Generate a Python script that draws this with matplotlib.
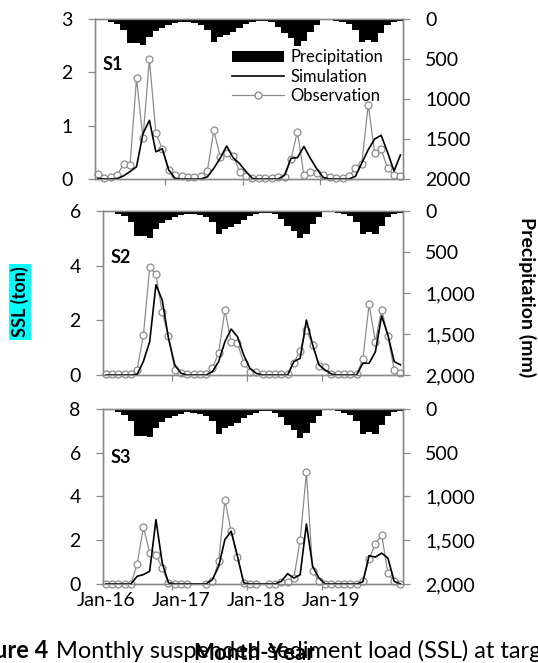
import numpy as np
import matplotlib
matplotlib.use('Agg')
import matplotlib.pyplot as plt
from matplotlib.patches import Patch
from matplotlib.lines import Line2D
from matplotlib.ticker import FuncFormatter

plt.rcParams['font.family'] = ['Lato', 'DejaVu Sans']

nan = np.nan
months = np.arange(48)  # Jan-16 .. Dec-19
tick_pos = [0, 12, 24, 36]
tick_labels = ['Jan-16', 'Jan-17', 'Jan-18', 'Jan-19']

# monthly precipitation (mm), same gauge used for all stations
precip = [12, 17, 33, 67, 138, 304, 304, 325, 221, 150, 108, 75,
          54, 33, 42, 54, 75, 138, 283, 221, 200, 158, 108, 67,
          42, 25, 25, 42, 96, 179, 242, 333, 275, 158, 75, 12,
          8, 25, 42, 67, 138, 283, 262, 283, 179, 75, 33, 25]

s1_obs = [0.09, 0.02, 0.03, 0.07, 0.28, 0.27, 1.89, 0.76, 2.25, 0.87, 0.56, 0.16,
          0.07, 0.05, 0.03, 0.04, 0.05, 0.15, 0.91, 0.42, 0.49, 0.44, 0.14, 0.06,
          0.02, 0.02, 0.02, 0.02, 0.04, 0.04, 0.37, 0.89, 0.07, 0.14, 0.11, 0.07,
          0.03, 0.02, 0.02, 0.05, 0.20, 0.29, 1.39, 0.49, 0.56, 0.20, 0.07, 0.06]
s1_sim = [0.01, 0, 0, 0.01, 0.06, 0.14, 0.23, 0.85, 1.10, 0.51, 0.57, 0.17,
          0.01, 0, 0, 0, 0, 0.04, 0.20, 0.39, 0.62, 0.40, 0.29, 0.14,
          0.01, 0, 0, 0, 0, 0.07, 0.39, 0.40, 0.61, 0.39, 0.19, 0.03,
          0, 0, 0, 0, 0.05, 0.30, 0.55, 0.75, 0.82, 0.50, 0.15, 0.45]

s2_obs = [0.02, 0.02, 0.02, 0.02, 0.02, 0.20, 1.46, 3.95, 3.68, 2.29, 1.43, 0.20,
          0.08, 0.04, 0.02, 0.02, 0.02, 0.24, 0.82, 2.37, 1.22, 1.16, 0.45, 0.12,
          0.10, 0.02, 0.02, 0.02, 0.02, 0.02, 0.45, 0.89, 1.65, 1.10, 0.34, 0.30,
          0.02, 0.02, 0.02, 0.02, 0.02, 0.57, 2.59, 1.22, 2.38, 1.43, 0.20, 0.06]
s2_sim = [0, 0, 0, 0, 0, 0.02, 0.50, 1.22, 3.30, 2.74, 1.34, 0.37,
          0.06, 0, 0, 0, 0, 0.12, 0.49, 1.22, 1.68, 1.40, 0.73, 0.24,
          0.06, 0, 0, 0, 0, 0, 0.49, 0.61, 2.01, 1.10, 0.37, 0.18,
          0.03, 0, 0, 0, 0, 0.43, 0.43, 0.85, 2.16, 1.46, 0.49, 0.37]

s3_obs = [0, 0, 0, 0, 0, 0.91, 2.60, 1.42, 1.34, 0.73, 0.05, 0,
          0, 0, nan, nan, 0, 0.12, 1.04, 3.83, 2.41, 1.23, 0.05, 0,
          0, nan, 0, 0, 0.09, 0.08, 0.27, 2.00, 5.10, 0.58, 0.12, 0.02,
          0.02, 0.02, 0, 0, 0, 0.12, 1.15, 1.83, 2.24, 0.50, 0.12, 0]
s3_sim = [0, 0, 0, 0, 0, 0.35, 0.43, 0.58, 2.94, 0.96, 0.05, 0,
          0, 0, 0, 0, 0, 0.20, 0.80, 2.03, 2.41, 1.27, 0.05, 0,
          0, 0, 0, 0, 0.12, 0.47, 0.27, 0.42, 2.74, 0.80, 0.27, 0,
          0, 0, 0, 0, 0, 0.10, 1.29, 1.23, 1.41, 1.18, 0.12, 0]

stations = [
    # name, obs, sim, ymax, yticks, comma on right axis, axes rect
    ('S1', s1_obs, s1_sim, 3, [0, 1, 2, 3], False, [0.1766, 0.7300, 0.5725, 0.2413]),
    ('S2', s2_obs, s2_sim, 6, [0, 2, 4, 6], True, [0.1914, 0.4344, 0.5576, 0.2474]),
    ('S3', s3_obs, s3_sim, 8, [0, 2, 4, 6, 8], True, [0.1914, 0.1192, 0.5576, 0.2640]),
]

grey = '#8c8c8c'
spine_col = '#8a8a8a'
fig = plt.figure(figsize=(5.38, 6.63), dpi=100)

for k, (name, obs, sim, ymax, yticks, comma, rect) in enumerate(stations):
    ax = fig.add_axes(rect)
    ax.plot(months, obs, color=grey, lw=0.9, marker='o', ms=5, mfc='white',
            mec=grey, mew=0.9, clip_on=False, zorder=3)
    ax.plot(months, sim, color='black', lw=1.2, zorder=4)
    ax.set_xlim(-0.45, 47.4)
    ax.set_ylim(0, ymax)
    ax.set_yticks(yticks)
    ax.tick_params(axis='y', direction='out', length=5, width=0.9, color=spine_col,
                   labelsize=14, pad=11)

    ax.set_xticks(tick_pos)
    ax.set_xticks([10.5, 22.5, 34.5], minor=True)
    ax.tick_params(axis='x', which='major', length=0, labelsize=14, pad=6)
    ax.tick_params(axis='x', which='minor', direction='out', length=4, width=0.9,
                   color=spine_col)
    if k == 2:
        ax.set_xticklabels(tick_labels)
    else:
        ax.set_xticklabels([])

    for sp in ax.spines.values():
        sp.set_color(spine_col)
        sp.set_linewidth(1.0)

    ax2 = ax.twinx()
    ax2.bar(months, precip, width=1.0, color='black', linewidth=0, zorder=2)
    ax2.set_ylim(2000, 0)
    ax2.set_yticks([0, 500, 1000, 1500, 2000])
    fmt = '{:,.0f}' if comma else '{:.0f}'
    ax2.yaxis.set_major_formatter(FuncFormatter(lambda v, p, f=fmt: f.format(v)))
    ax2.tick_params(axis='y', direction='out', length=5, width=0.9, color=spine_col,
                    labelsize=14, pad=11)
    for sp in ax2.spines.values():
        sp.set_color(spine_col)
        sp.set_linewidth(1.0)
    ax2.set_xlim(-0.45, 47.4)

    ax2.text(0.026, 0.77, name, transform=ax.transAxes, fontsize=13,
             fontweight='bold', va='top', ha='left')

    if k == 0:
        handles = [Patch(facecolor='black', edgecolor='none'),
                   Line2D([], [], color='black', lw=1.2),
                   Line2D([], [], color=grey, lw=0.9, marker='o', ms=5,
                          mfc='white', mec=grey)]
        ax2.legend(handles, ['Precipitation', 'Simulation', 'Observation'],
                   loc='upper left', bbox_to_anchor=(0.445, 0.81), frameon=False,
                   fontsize=12, handlelength=3.1, handletextpad=0.4,
                   labelspacing=0.2, borderpad=0, borderaxespad=0)

fig.text(20 / 538, 1 - 302 / 663, 'SSL (ton)', rotation=90, fontsize=13,
         fontweight='bold', ha='center', va='center',
         bbox=dict(facecolor='#00ffff', edgecolor='none', pad=1.5))
fig.text(527 / 538, 1 - 297 / 663, 'Precipitation (mm)', rotation=270, fontsize=14,
         fontweight='bold', ha='center', va='center')

# cropped figure caption behind the x-axis title
fig.text(-6 / 538, 1 - 651 / 663, 'ure 4', fontsize=17, fontweight='bold',
         ha='left', va='center')
fig.text(56 / 538, 1 - 651 / 663, 'Monthly suspended sediment load (SSL) at target stations',
         fontsize=17, ha='left', va='center')
fig.text(254 / 538, 1 - 654 / 663, 'Month-Year', fontsize=16, fontweight='bold',
         ha='center', va='center')

fig.savefig('out.png', dpi=100)
